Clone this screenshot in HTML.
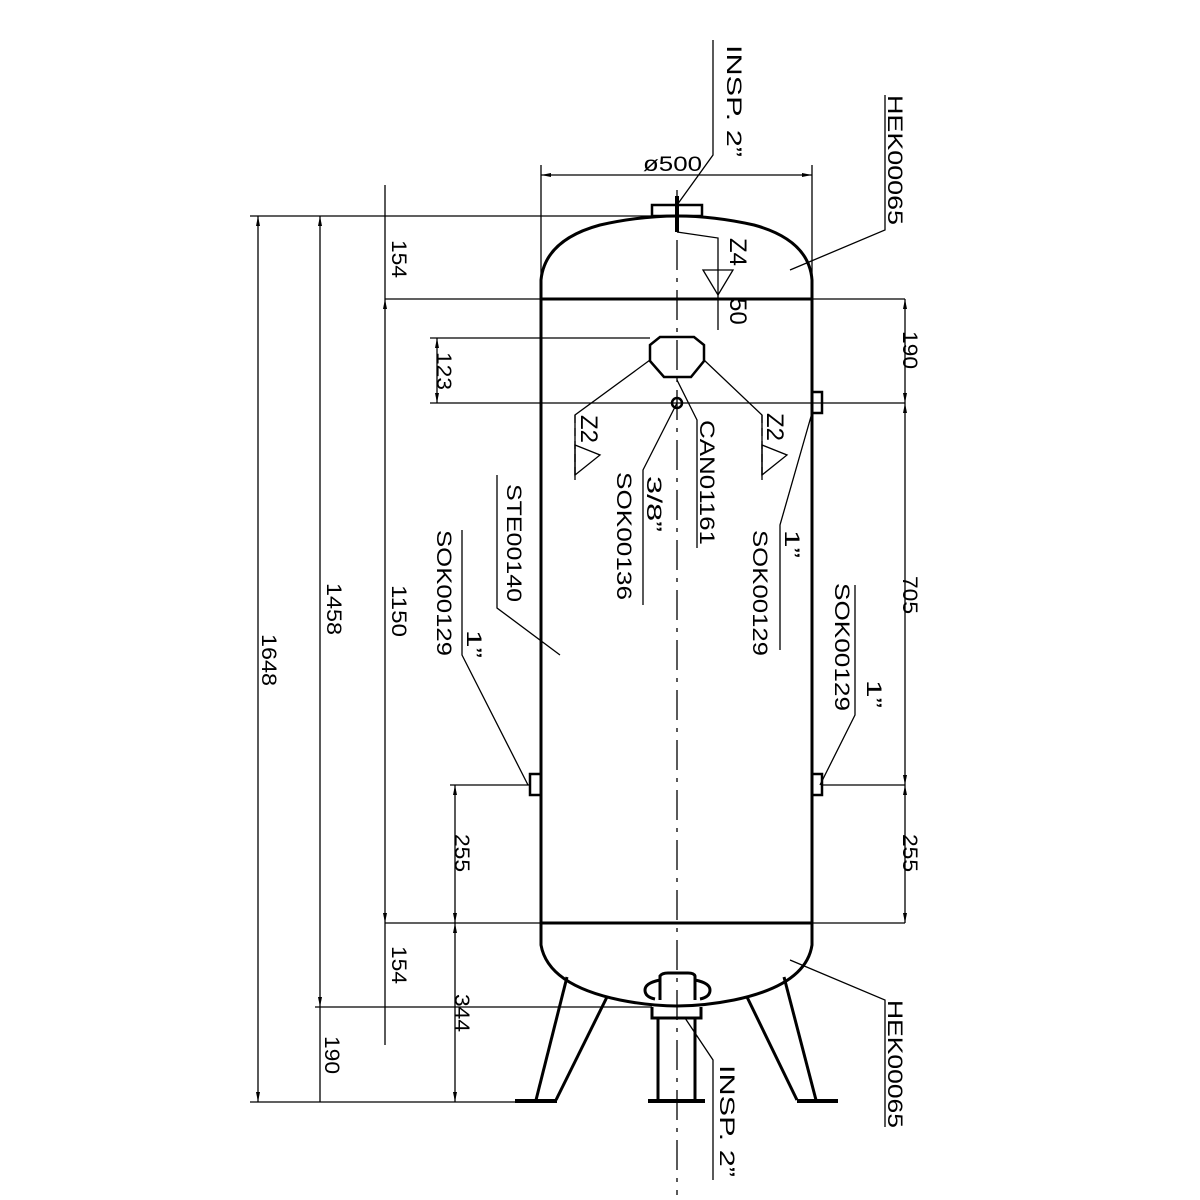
<!DOCTYPE html>
<html><head><meta charset="utf-8"><style>body{margin:0;background:#fff}svg{display:block}</style></head><body>
<svg width="1200" height="1200" viewBox="0 0 1200 1200" xmlns="http://www.w3.org/2000/svg" font-family="Liberation Sans, sans-serif" font-size="21" fill="none" stroke="#000">
<defs>
<marker id="a" viewBox="0 0 10 10" refX="10" refY="5" markerWidth="10" markerHeight="10" orient="auto-start-reverse" markerUnits="userSpaceOnUse"><path d="M0,3 L10,5 L0,7 z" fill="#000" stroke="none"/></marker>
</defs>
<!-- centerline -->
<line x1="677" y1="190" x2="677" y2="1195" stroke-width="1.3" stroke-dasharray="30,8,4,8"/>
<!-- tank -->
<g stroke-width="3">
<path d="M541,299 L541,280 Q545,240 600,225 Q640,216 677,216 Q714,216 754,225 Q809,240 812,280 L812,299"/>
<line x1="541" y1="299" x2="812" y2="299"/>
<line x1="541" y1="299" x2="541" y2="923"/>
<line x1="812" y1="299" x2="812" y2="923"/>
<line x1="541" y1="923" x2="812" y2="923"/>
<path d="M541,923 L541,945 Q548,985 620,1000 Q650,1006 677,1006 Q704,1006 734,1000 Q806,985 812,945 L812,923"/>
</g>
<!-- top nozzle -->
<g stroke-width="2.5">
<rect x="652" y="205" width="50" height="11"/>
<line x1="677" y1="196" x2="677" y2="232" stroke-width="4"/>
</g>
<!-- manway octagon -->
<path d="M660,337 L694,337 L704,345 L704,361 L691,377 L664,377 L650,361 L650,345 Z" stroke-width="2.5"/>
<circle cx="677" cy="403" r="5" stroke-width="2.5"/>
<!-- side nozzles -->
<g stroke-width="2.5">
<rect x="812" y="392" width="10" height="21"/>
<rect x="812" y="774" width="10" height="21"/>
<rect x="530" y="774" width="11" height="21"/>
</g>
<!-- legs -->
<g stroke-width="3">
<line x1="567" y1="977" x2="536" y2="1100"/>
<line x1="607" y1="997" x2="556" y2="1100"/>
<line x1="515" y1="1101" x2="557" y2="1101" stroke-width="4"/>
<line x1="747" y1="997" x2="797" y2="1100"/>
<line x1="784" y1="977" x2="816" y2="1100"/>
<line x1="797" y1="1101" x2="838" y2="1101" stroke-width="4"/>
<line x1="658" y1="1018" x2="658" y2="1100"/>
<line x1="695" y1="1018" x2="695" y2="1100"/>
<line x1="648" y1="1101" x2="705" y2="1101" stroke-width="4"/>
<path d="M652,1007 L652,1018 L701,1018 L701,1007"/>
<path d="M660,1000 L660,976 Q662,973 668,973 L688,973 Q694,973 695,976 L695,1000"/>
<path d="M660,980 Q645,983 645,990 Q645,997 655,999 M695,980 Q710,983 710,990 Q710,997 700,999"/>
</g>
<!-- extension lines -->
<g stroke-width="1.3">
<line x1="250" y1="216" x2="676" y2="216"/>
<line x1="385" y1="299" x2="905" y2="299"/>
<line x1="430" y1="403" x2="905" y2="403"/>
<line x1="430" y1="338" x2="650" y2="338"/>
<line x1="450" y1="785" x2="530" y2="785"/>
<line x1="822" y1="785" x2="905" y2="785"/>
<line x1="385" y1="923" x2="905" y2="923"/>
<line x1="315" y1="1007" x2="652" y2="1007"/>
<line x1="250" y1="1102" x2="525" y2="1102"/>
<line x1="541" y1="165" x2="541" y2="299"/>
<line x1="812" y1="165" x2="812" y2="299"/>
</g>
<!-- dimension lines -->
<g stroke-width="1.3" marker-start="url(#a)" marker-end="url(#a)">
<line x1="541" y1="175" x2="812" y2="175"/>
<line x1="258" y1="216" x2="258" y2="1102"/>
<line x1="320" y1="216" x2="320" y2="1007"/>
<line x1="385" y1="299" x2="385" y2="923"/>
<line x1="437" y1="338" x2="437" y2="403"/>
<line x1="455" y1="785" x2="455" y2="923"/>
<line x1="455" y1="923" x2="455" y2="1102"/>
<line x1="905" y1="299" x2="905" y2="403"/>
<line x1="905" y1="403" x2="905" y2="785"/>
<line x1="905" y1="785" x2="905" y2="923"/>
</g>
<g stroke-width="1.3">
<line x1="385" y1="185" x2="385" y2="299"/>
<line x1="385" y1="923" x2="385" y2="1045"/>
<line x1="320" y1="1007" x2="320" y2="1102"/>
<!-- leaders -->
<path d="M677,205 L713,155 L713,40"/>
<path d="M790,270 L885,230 L885,95"/>
<path d="M677,232 L718,238 L718,330"/>
<path d="M703,270 L718,295 L733,270 Z"/>
<path d="M650,360 L575,415 L575,480"/>
<path d="M704,360 L762,415 L762,480"/>
<path d="M575,415 L575,480" stroke-dasharray="8,5"/>
<path d="M677,380 L697,420 L697,548"/>
<path d="M677,403 L643,470 L643,605"/>
<path d="M560,655 L497,608 L497,475"/>
<path d="M528,785 L462,655 L462,530"/>
<path d="M812,413 L780,525 L780,650"/>
<path d="M820,785 L855,715 L855,585"/>
<path d="M790,960 L885,1000 L885,1127"/>
<path d="M685,1018 L713,1060 L713,1180"/>
</g>
<!-- texts -->
<g fill="#000" stroke="none">
<text x="643" y="171" textLength="59" lengthAdjust="spacingAndGlyphs">ø500</text>
<text transform="translate(392,240) rotate(90)" textLength="38" lengthAdjust="spacingAndGlyphs">154</text>
<text transform="translate(392,585) rotate(90)" textLength="52" lengthAdjust="spacingAndGlyphs">1150</text>
<text transform="translate(392,946) rotate(90)" textLength="38" lengthAdjust="spacingAndGlyphs">154</text>
<text transform="translate(327,583) rotate(90)" textLength="52" lengthAdjust="spacingAndGlyphs">1458</text>
<text transform="translate(262,634) rotate(90)" textLength="52" lengthAdjust="spacingAndGlyphs">1648</text>
<text transform="translate(325,1036) rotate(90)" textLength="38" lengthAdjust="spacingAndGlyphs">190</text>
<text transform="translate(455,994) rotate(90)" textLength="38" lengthAdjust="spacingAndGlyphs">344</text>
<text transform="translate(455,834) rotate(90)" textLength="38" lengthAdjust="spacingAndGlyphs">255</text>
<text transform="translate(437,352) rotate(90)" textLength="38" lengthAdjust="spacingAndGlyphs">123</text>
<text transform="translate(903,331) rotate(90)" textLength="38" lengthAdjust="spacingAndGlyphs">190</text>
<text transform="translate(903,576) rotate(90)" textLength="38" lengthAdjust="spacingAndGlyphs">705</text>
<text transform="translate(903,834) rotate(90)" textLength="38" lengthAdjust="spacingAndGlyphs">255</text>
<text transform="translate(727,45) rotate(90)" textLength="112" lengthAdjust="spacingAndGlyphs">INSP. 2”</text>
<text transform="translate(888,95) rotate(90)" textLength="130" lengthAdjust="spacingAndGlyphs">HEK00065</text>
<text transform="translate(700,420) rotate(90)" textLength="125" lengthAdjust="spacingAndGlyphs">CAN01161</text>
<text transform="translate(647,476) rotate(90)" textLength="56" lengthAdjust="spacingAndGlyphs">3/8”</text>
<text transform="translate(617,472) rotate(90)" textLength="128" lengthAdjust="spacingAndGlyphs">SOK00136</text>
<text transform="translate(507,484) rotate(90)" textLength="118" lengthAdjust="spacingAndGlyphs">STE00140</text>
<text transform="translate(437,530) rotate(90)" textLength="126" lengthAdjust="spacingAndGlyphs">SOK00129</text>
<text transform="translate(467,630) rotate(90)" textLength="28" lengthAdjust="spacingAndGlyphs">1”</text>
<text transform="translate(785,530) rotate(90)" textLength="28" lengthAdjust="spacingAndGlyphs">1”</text>
<text transform="translate(753,530) rotate(90)" textLength="126" lengthAdjust="spacingAndGlyphs">SOK00129</text>
<text transform="translate(835,583) rotate(90)" textLength="128" lengthAdjust="spacingAndGlyphs">SOK00129</text>
<text transform="translate(867,680) rotate(90)" textLength="28" lengthAdjust="spacingAndGlyphs">1”</text>
<text transform="translate(888,1000) rotate(90)" textLength="128" lengthAdjust="spacingAndGlyphs">HEK00065</text>
<text transform="translate(720,1065) rotate(90)" textLength="112" lengthAdjust="spacingAndGlyphs">INSP. 2”</text>
<text transform="translate(730,238) rotate(90)" font-size="24">Z4</text>
<text transform="translate(730,298) rotate(90)" font-size="24">50</text>
<text transform="translate(581,415) rotate(90)" font-size="24">Z2</text>
<text transform="translate(767,413) rotate(90)" font-size="24">Z2</text>
</g>
<g stroke-width="1.3">
<path d="M575,445 L575,475 L600,455 Z"/>
<path d="M762,445 L762,475 L787,455 Z"/>
<path d="M762,415 L762,480" stroke-dasharray="8,5"/>
</g>
</svg>
</body></html>
